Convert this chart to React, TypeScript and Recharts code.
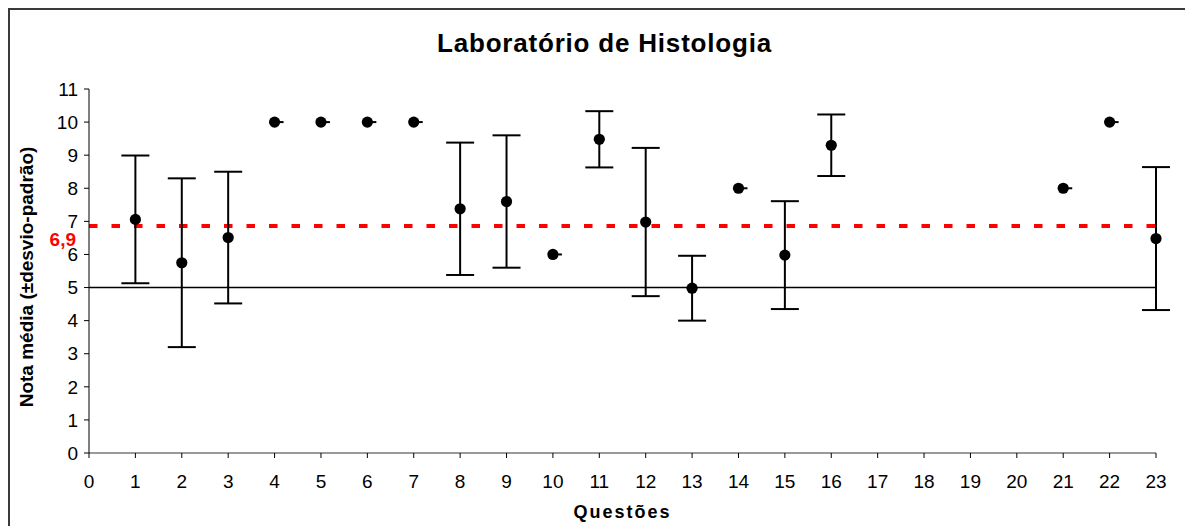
import React from 'react';
import { ScatterChart, Scatter, XAxis, YAxis, ErrorBar, ReferenceLine } from 'recharts';

const questions = [1, 2, 3, 4, 5, 6, 7, 8, 9, 10, 11, 12, 13, 14, 15, 16, 21, 22, 23];
const means = [7.06, 5.75, 6.51, 10, 10, 10, 10, 7.38, 7.6, 6.0, 9.48, 6.98, 4.98, 8.0, 5.98, 9.3, 8.0, 10, 6.48];
const deviations = [1.93, 2.55, 1.99, 0, 0, 0, 0, 2.0, 2.0, 0, 0.85, 2.24, 0.98, 0, 1.63, 0.93, 0, 0, 2.16];
const xTicks = [0, 1, 2, 3, 4, 5, 6, 7, 8, 9, 10, 11, 12, 13, 14, 15, 16, 17, 18, 19, 20, 21, 22, 23];
const yTicks = [0, 1, 2, 3, 4, 5, 6, 7, 8, 9, 10, 11];
const overallMean = 6.86;
const overallMeanLabel = '6,9';
const passMark = 5;

const title = 'Laboratório de Histologia';
const yLabel = 'Nota média (±desvio-padrão)';
const xLabel = 'Questões';

const rows = questions.map((q, i) => ({ x: q, y: means[i], sd: deviations[i] }));
const withError = rows.filter((r) => r.sd > 0);
const noError = rows.filter((r) => r.sd === 0);

const FONT = '"Liberation Sans", Arial, sans-serif';

const Dot = (props: any) => {
  const { cx, cy } = props;
  if (cx == null || cy == null) return null;
  return <circle cx={cx} cy={cy} r={5.6} fill="#000" />;
};

const DotTail = (props: any) => {
  const { cx, cy } = props;
  if (cx == null || cy == null) return null;
  return (
    <g>
      <line x1={cx} x2={cx + 9} y1={cy} y2={cy} stroke="#000" strokeWidth={2} />
      <circle cx={cx} cy={cy} r={5.6} fill="#000" />
    </g>
  );
};

const YLabelContent = (props: any) => {
  const vb = props.viewBox || {};
  const cx = 16;
  const cy = vb.y + vb.height / 2 + 6;
  return (
    <text
      x={cx}
      y={cy}
      transform={`rotate(-90, ${cx}, ${cy})`}
      textAnchor="middle"
      dominantBaseline="central"
      fontFamily={FONT}
      fontWeight="bold"
      fontSize={19}
      fill="#000"
    >
      {yLabel}
    </text>
  );
};

const XLabelContent = (props: any) => {
  const vb = props.viewBox || {};
  return (
    <text
      x={vb.x + vb.width / 2}
      y={vb.y + 65}
      textAnchor="middle"
      fontFamily={FONT}
      fontWeight="bold"
      fontSize={18}
      letterSpacing={2}
      fill="#000"
    >
      {xLabel}
    </text>
  );
};

const MeanLabel = (props: any) => {
  const vb = props.viewBox || {};
  return (
    <text
      x={vb.x - 13}
      y={vb.y + 20}
      textAnchor="end"
      fontFamily={FONT}
      fontWeight="bold"
      fontSize={19}
      fill="#ff0000"
    >
      {overallMeanLabel}
    </text>
  );
};

export default function App() {
  return (
    <div
      style={{
        position: 'relative',
        width: 1177,
        height: 540,
        border: '2px solid #3a3a3a',
        background: '#fff',
      }}
    >
      <div
        style={{
          position: 'absolute',
          left: 4,
          top: 20,
          width: 1181,
          textAlign: 'center',
          fontFamily: FONT,
          fontWeight: 'bold',
          fontSize: 26,
          letterSpacing: '0.8px',
          lineHeight: '26px',
          color: '#000',
        }}
      >
        {title}
      </div>
      <ScatterChart
        width={1177}
        height={520}
        margin={{ top: 79, right: 31, bottom: 17, left: 0 }}
      >
        <XAxis
          type="number"
          dataKey="x"
          domain={[0, 23]}
          ticks={xTicks}
          interval={0}
          allowDecimals={false}
          height={60}
          tickSize={5}
          tickMargin={17}
          axisLine={{ stroke: '#777', strokeWidth: 1.5 }}
          tickLine={{ stroke: '#000', strokeWidth: 1 }}
          tick={{ fill: '#000', fontSize: 19, fontFamily: FONT }}
          label={<XLabelContent />}
        />
        <YAxis
          type="number"
          dataKey="y"
          domain={[0, 11]}
          ticks={yTicks}
          interval={0}
          width={79}
          tickSize={5}
          tickMargin={6}
          axisLine={{ stroke: '#000', strokeWidth: 1 }}
          tickLine={{ stroke: '#000', strokeWidth: 1 }}
          tick={{ fill: '#000', fontSize: 19, fontFamily: FONT }}
          label={<YLabelContent />}
        />
        <ReferenceLine y={passMark} stroke="#000" strokeWidth={1.5} />
        <ReferenceLine
          y={overallMean}
          stroke="#ff0000"
          strokeWidth={4}
          strokeDasharray="8.5 14"
          label={<MeanLabel />}
        />
        <Scatter data={withError} shape={<Dot />} isAnimationActive={false}>
          <ErrorBar dataKey="sd" direction="y" width={14} stroke="#000" strokeWidth={2} />
        </Scatter>
        <Scatter data={noError} shape={<DotTail />} isAnimationActive={false} />
      </ScatterChart>
    </div>
  );
}
